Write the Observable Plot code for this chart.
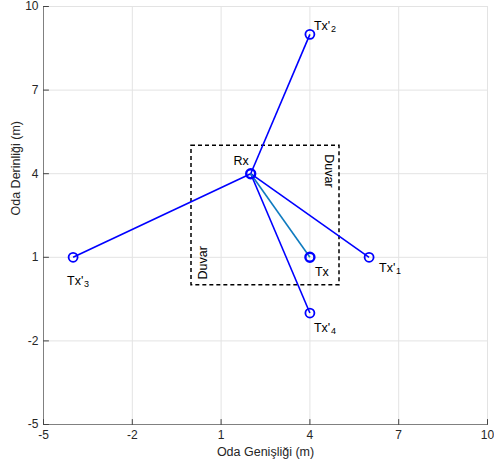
<!DOCTYPE html>
<html>
<head>
<meta charset="utf-8">
<script src="https://cdn.jsdelivr.net/npm/d3@7"></script>
<script src="https://cdn.jsdelivr.net/npm/@observablehq/plot@0.6"></script>
<style>
  body { margin: 0; background: #fff; }
  #chart svg { display: block; }
</style>
</head>
<body>
<div id="chart"></div>
<script>
// Data
const xTicks = [-5, -2, 1, 4, 7, 10];
const yTicks = [-5, -2, 1, 4, 7, 10];
const xLabel = "Oda Genişliği (m)";
const yLabel = "Oda Derinliği (m)";
const rx = {name: "Rx", x: 2, y: 4};
const tx = {name: "Tx", x: 4, y: 1};
const images = [
  {name: "Tx'", sub: "1", x: 6, y: 1},
  {name: "Tx'", sub: "2", x: 4, y: 9},
  {name: "Tx'", sub: "3", x: -4, y: 1},
  {name: "Tx'", sub: "4", x: 4, y: -1}
];
const room = {x1: 0, x2: 5, y1: 0, y2: 5};
const wallLabels = [
  {text: "Duvar", x: 5, y: 4.1},
  {text: "Duvar", x: 0, y: 0.8}
];

// label offsets (pixels) for image labels, in order
const imgDx = [10, 4, -6, 4];
const imgDy = [11, -8, 24, 15];

const tickLine = {draw(ctx, l) { ctx.moveTo(0, 0); ctx.lineTo(0, -l); }};
const font = "Liberation Sans, Arial, Helvetica, sans-serif";
const blue = "#0000ff";
const fmt = d => String(d);

const marks = [
  Plot.gridX(xTicks, {stroke: "#e3e3e3", strokeOpacity: 1}),
  Plot.gridY(yTicks, {stroke: "#e3e3e3", strokeOpacity: 1}),
  Plot.ruleY([-5], {stroke: "#808080"}),
  Plot.ruleX([-5], {stroke: "#808080"}),
  Plot.vector(xTicks, {x: d => d, y: -5, length: 5, rotate: 0, anchor: "start", shape: tickLine, stroke: "#444", strokeWidth: 1}),
  Plot.vector(yTicks, {x: -5, y: d => d, length: 5, rotate: 90, anchor: "start", shape: tickLine, stroke: "#444", strokeWidth: 1}),
  Plot.axisX(xTicks, {tickSize: 0, tickPadding: 6, fontSize: 12, color: "#262626", tickFormat: fmt, label: null}),
  Plot.axisY(yTicks, {tickSize: 0, tickPadding: 5, fontSize: 12, color: "#262626", tickFormat: fmt, label: null}),
  Plot.text([xLabel], {frameAnchor: "bottom", dy: 31, text: d => d, fontSize: 12.5, fill: "#262626"}),
  Plot.text([yLabel], {frameAnchor: "left", dx: -28, rotate: -90, text: d => d, fontSize: 12.5, fill: "#262626"}),
  Plot.rect([room], {x1: "x1", x2: "x2", y1: "y1", y2: "y2", fill: "none", stroke: "black", strokeWidth: 1.5, strokeDasharray: "4,3"}),
  Plot.link(images, {x1: rx.x, y1: rx.y, x2: "x", y2: "y", stroke: blue, strokeWidth: 1.6}),
  Plot.link([tx], {x1: rx.x, y1: rx.y, x2: "x", y2: "y", stroke: "#0f7bbf", strokeWidth: 1.6}),
  Plot.dot(images, {x: "x", y: "y", r: 4.5, stroke: blue, strokeWidth: 1.8, fill: "none"}),
  Plot.dot([tx, rx], {x: "x", y: "y", r: 4.5, stroke: blue, strokeWidth: 2.4, fill: "none"}),
  Plot.text([rx], {x: "x", y: "y", text: "name", dx: -2, dy: -13, textAnchor: "end", fontSize: 12.5, fill: "black"}),
  Plot.text([tx], {x: "x", y: "y", text: "name", dx: 5, dy: 15, textAnchor: "start", fontSize: 12.5, fill: "black"}),
  Plot.text([wallLabels[0]], {x: "x", y: "y", text: "text", rotate: 90, dx: -11, fontSize: 12.5, fill: "black"}),
  Plot.text([wallLabels[1]], {x: "x", y: "y", text: "text", rotate: -90, dx: 11, fontSize: 12.5, fill: "black"})
];

images.forEach((d, i) => {
  marks.push(Plot.text([d], {x: "x", y: "y", text: "name", dx: imgDx[i], dy: imgDy[i], textAnchor: "start", fontSize: 12.5, fill: "black"}));
  marks.push(Plot.text([d], {x: "x", y: "y", text: "sub", dx: imgDx[i] + 17, dy: imgDy[i] + 3, textAnchor: "start", fontSize: 9, fill: "black"}));
});

const chart = Plot.plot({
  width: 494,
  height: 470,
  marginLeft: 43,
  marginRight: 7,
  marginTop: 6,
  marginBottom: 46,
  style: {fontFamily: font, background: "white"},
  x: {domain: [-5, 10]},
  y: {domain: [-5, 10]},
  marks
});
document.getElementById("chart").appendChild(chart);
</script>
</body>
</html>
